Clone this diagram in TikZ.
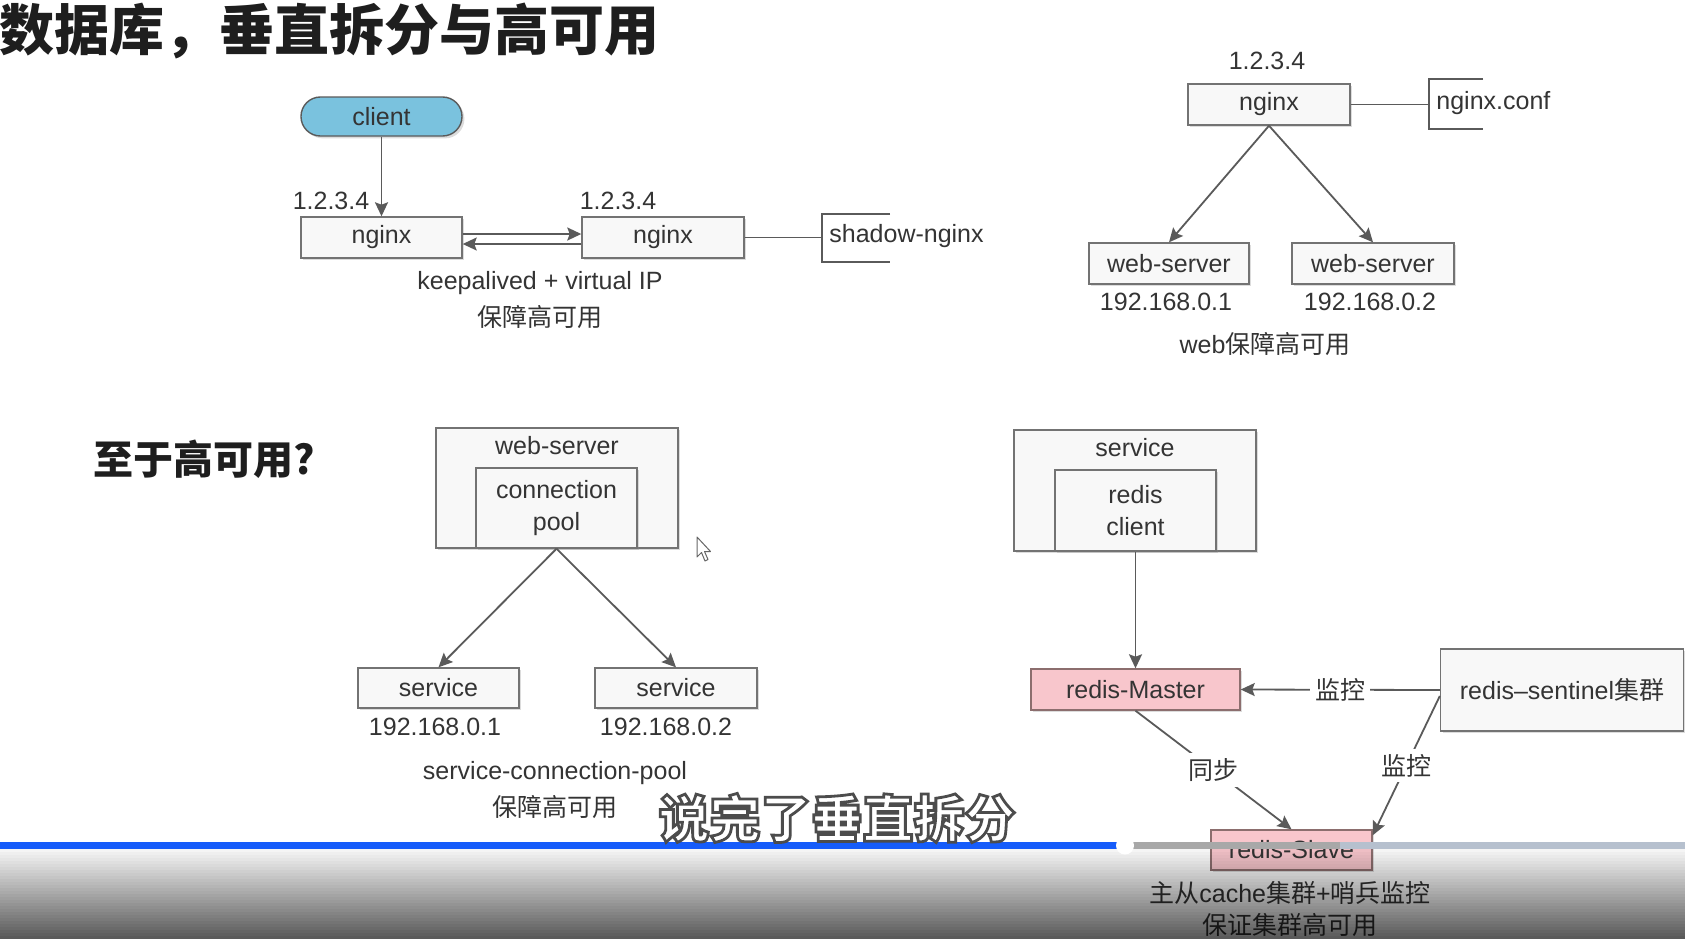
\documentclass[tikz,border=0pt]{standalone}
\usepackage{fontspec}
\setmainfont{Liberation Sans}
\newfontfamily\cjk{Noto Sans CJK SC}
\usetikzlibrary{arrows.meta,shadows}
\definecolor{txt}{RGB}{52,52,52}
\definecolor{titlec}{RGB}{30,30,30}
\definecolor{boxline}{RGB}{115,115,115}
\definecolor{linec}{RGB}{90,90,90}
\definecolor{boxfill}{RGB}{248,248,248}
\definecolor{pinkfill}{RGB}{248,198,204}
\definecolor{pinkline}{RGB}{140,110,110}
\definecolor{clientfill}{RGB}{122,194,222}
\definecolor{barblue}{RGB}{22,92,250}
\definecolor{bargray}{RGB}{168,168,168}
\definecolor{barlight}{RGB}{182,192,206}
\newcommand\zhs[1]{{\cjk #1}}
\newcommand\fs{\fontsize{12.5pt}{16pt}\selectfont}
\newcommand\outlined[1]{\special{pdf:literal direct 2 Tr 1.4 w 0.3 0.3 0.3 RG}#1\special{pdf:literal direct 0 Tr}}
\tikzset{
  wd/.style={minimum width={#1*0.5pt}},
  ht/.style={minimum height={#1*0.5pt}},
  box/.style={draw=boxline, fill=boxfill, line width=0.7pt, inner sep=0pt, font=\fs, text=txt, align=center,
    drop shadow={shadow xshift=1.2pt, shadow yshift=-1.2pt, opacity=0.3, fill=black!45}},
  pinkbox/.style={box, fill=pinkfill, draw=pinkline},
  clientbox/.style={box, fill=clientfill, draw=linec, rounded corners=9.7pt},
  lbl/.style={font=\fs, text=txt, inner sep=0pt},
  elbl/.style={lbl, fill=white, inner sep=2.5pt},
  arr/.style={draw=linec, line width=0.9pt, -{Stealth[length=7pt,width=6.5pt,inset=1.2pt]}},
  ln/.style={draw=linec, line width=0.8pt},
}
\begin{document}
\begin{tikzpicture}[x=0.5pt,y=-0.5pt]
\useasboundingbox (0,0) rectangle (1685,938);
\fill[white] (0,0) rectangle (1685,938);

% title
\node[anchor=west, inner sep=0pt, text=titlec, font={\cjk\bfseries\fontsize{27.5pt}{30pt}\selectfont}] (title) at (-1,31) {数据库，垂直拆分与高可用};

% ---------- top left ----------
\node[clientbox, wd=161, ht=39] (client) at (381.5,116.5) {client};
\node[box, wd=161, ht=41] (ng1) at (381.5,237.5) {nginx};
\node[box, wd=162, ht=41] (ng2) at (663,237.5) {nginx};
\node[lbl] (ip1) at (331,201) {1.2.3.4};
\node[lbl] (ip2) at (618,201) {1.2.3.4};
\draw[arr] (client) -- (ng1);
\draw[arr] ([yshift=1.75pt]ng1.east) -- ([yshift=1.75pt]ng2.west);
\draw[arr] ([yshift=-3.25pt]ng2.west) -- ([yshift=-3.25pt]ng1.east);
\coordinate (sh) at (822,237.5);
\draw[ln] (ng2.east) -- (sh);
\draw[ln] (890,214) -- (822,214) -- (822,262) -- (890,262);
\node[lbl, anchor=west] (shn) at (829,236) {shadow-nginx};
\node[lbl] (kv) at (540,283) {keepalived + virtual IP};
\node[lbl] (ha1) at (540,317) {\zhs{保障高可用}};

% ---------- top right ----------
\node[lbl] (ip3) at (1267,61) {1.2.3.4};
\node[box, wd=162, ht=41] (ngt) at (1269,104.5) {nginx};
\coordinate (cf) at (1429,104.5);
\draw[ln] (ngt.east) -- (cf);
\draw[ln] (1483,79) -- (1429,79) -- (1429,129) -- (1483,129);
\node[lbl, anchor=west] (conf) at (1436,103) {nginx.conf};
\node[box, wd=160, ht=41] (ws1) at (1169,263.5) {web-server};
\node[box, wd=162, ht=41] (ws2) at (1373,263.5) {web-server};
\draw[arr] (ngt.south) -- (ws1.north);
\draw[arr] (ngt.south) -- (ws2.north);
\node[lbl] (ip4) at (1166,302) {192.168.0.1};
\node[lbl] (ip5) at (1370,302) {192.168.0.2};
\node[lbl] (ha2) at (1265,344) {web\zhs{保障高可用}};

% ---------- bottom left ----------
\node[inner sep=0pt, text=titlec, font={\cjk\bfseries\fontsize{20pt}{24pt}\selectfont}] (q) at (204,459) {至于高可用?};
\node[box, wd=242, ht=120] (wso) at (557,488) {};
\node[lbl] (wsl) at (557,446) {web-server};
\node[box, wd=161, ht=80] (cp) at (556.5,508) {connection\\pool};
\node[box, wd=161, ht=40] (s1) at (438.5,688) {service};
\node[box, wd=162, ht=40] (s2) at (676,688) {service};
\draw[arr] (cp.south) -- (s1.north);
\draw[arr] (cp.south) -- (s2.north);
\node[lbl] (ip6) at (435,727) {192.168.0.1};
\node[lbl] (ip7) at (666,727) {192.168.0.2};
\node[lbl] (scp) at (555,773) {service-connection-pool};
\node[lbl] (ha3) at (555,807) {\zhs{保障高可用}};
% mouse cursor
\draw[fill=white, draw=black!60, line width=0.5pt, line join=round]
  (697,537) -- (697,557) -- (701.5,552.5) -- (705,561) -- (708,559.5) -- (704.5,551.5) -- (710.5,551.5) -- cycle;

% ---------- bottom right ----------
\node[box, wd=242, ht=121] (svo) at (1135,490.5) {};
\node[lbl] (svl) at (1135,448) {service};
\node[box, wd=161, ht=81] (rc) at (1135.5,510.5) {redis\\client};
\node[pinkbox, wd=209, ht=41] (rm) at (1135.5,689.5) {redis-Master};
\node[box, wd=243, ht=82] (sen) at (1562,690) {redis–sentinel\zhs{集群}};
\node[pinkbox, wd=161, ht=40] (rs) at (1291.5,850) {redis-Slave};
\draw[arr] (rc.south) -- (rm.north);
\draw[arr] (sen.west) -- node[elbl] {\zhs{监控}} (rm.east);
\draw[arr] (rm.south) -- node[elbl] {\zhs{同步}} (rs.north);
\draw[arr] ([yshift=-3pt]sen.west) -- node[elbl] {\zhs{监控}} ([yshift=-3pt]rs.north east);
\node[lbl] (note1) at (1290,893) {\zhs{主从}cache\zhs{集群}+\zhs{哨兵监控}};
\node[lbl] (note2) at (1290,925) {\zhs{保证集群高可用}};

% ---------- video overlay ----------
\foreach \i in {0,...,29} {
  \fill[black, opacity={0.04+\i*0.021}] (0,{849+\i*3}) rectangle (1685,{852+\i*3});
}
\fill[barblue] (0,842) rectangle (1124,849);
\fill[bargray] (1124,842) rectangle (1340,849);
\fill[barlight] (1340,842) rectangle (1685,849);
\fill[white] (1125,845.5) circle (4.5pt);
\node[inner sep=0pt, text=white, font={\cjk\bfseries\fontsize{25.5pt}{28pt}\selectfont}] (sub) at (837,818) {\outlined{说完了垂直拆分}};
\end{tikzpicture}
\end{document}
